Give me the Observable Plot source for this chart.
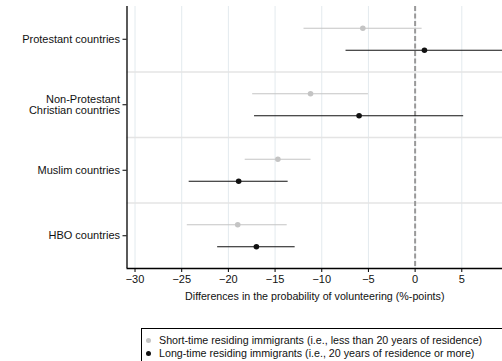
<!DOCTYPE html>
<html>
<head>
<meta charset="utf-8">
<script src="https://cdn.jsdelivr.net/npm/d3@7"></script>
<script src="https://cdn.jsdelivr.net/npm/@observablehq/plot@0.6"></script>
<style>
  body { margin: 0; background: #fff; font-family: "Liberation Sans", Arial, sans-serif; }
  #wrap { position: relative; width: 502px; height: 361px; overflow: hidden; }
  #legend { position: absolute; left: 141px; top: 328px; width: 380px; height: 50px; border: 1px solid #000; box-sizing: border-box; font-size: 10.7px; color: #111; }
  .row { position: absolute; left: 4px; white-space: nowrap; }
  .dot { display: inline-block; width: 5px; height: 5px; border-radius: 50%; margin-right: 8px; vertical-align: 1px; }
</style>
</head>
<body>
<div id="wrap"><div id="chart"></div>
<div id="legend">
  <div class="row" style="top:5px"><span class="dot" style="background:#c4c4c4"></span>Short-time residing immigrants (i.e., less than 20 years of residence)</div>
  <div class="row" style="top:18px"><span class="dot" style="background:#111"></span>Long-time residing immigrants (i.e., 20 years of residence or more)</div>
</div>
</div>
<script>
const categories = ["Protestant countries", "Non-Protestant\nChristian countries", "Muslim countries", "HBO countries"];
const shortEst = [-5.6, -11.2, -14.7, -19.0];
const shortLo  = [-11.9, -17.4, -18.2, -24.4];
const shortHi  = [0.75, -5.0, -11.15, -13.7];
const longEst  = [1.0, -6.0, -18.9, -17.0];
const longLo   = [-7.4, -17.2, -24.2, -21.15];
const longHi   = [9.4, 5.2, -13.6, -12.85];
const xTicks = [-30, -25, -20, -15, -10, -5, 0, 5];
const xDomain = [-30.86, 9.36];

const shortData = categories.map((c, i) => ({i, est: shortEst[i], lo: shortLo[i], hi: shortHi[i]}));
const longData = categories.map((c, i) => ({i, est: longEst[i], lo: longLo[i], hi: longHi[i]}));
const yDomain = [-0.5, categories.length - 0.5];
const separators = d3.range(1, categories.length).map(i => i - 0.5);

const gray = "#c4c4c4", black = "#111";

const chart = Plot.plot({
  width: 502,
  height: 320,
  marginLeft: 126.5,
  marginRight: 0,
  marginTop: 6,
  marginBottom: 52,
  style: {fontFamily: "Liberation Sans, Arial, sans-serif", fontSize: "11px", color: "#111", background: "#fff"},
  x: {domain: xDomain, label: null},
  y: {domain: yDomain, reverse: true, label: null},
  marks: [
    Plot.gridX(xTicks, {stroke: "#e3eaee", strokeOpacity: 1, strokeWidth: 1}),
    Plot.ruleY(separators, {stroke: "#e4e4e4", strokeWidth: 1.5}),
    Plot.ruleX([0], {stroke: "#999", strokeWidth: 2, strokeDasharray: "5,2.5"}),
    Plot.ruleY(shortData, {y: "i", x1: "lo", x2: "hi", dy: -11, stroke: gray, strokeWidth: 1.2, clip: true}),
    Plot.ruleY(longData, {y: "i", x1: "lo", x2: "hi", dy: 11, stroke: black, strokeWidth: 1.2, clip: true}),
    Plot.dot(shortData, {x: "est", y: "i", dy: -11, r: 2.8, fill: gray}),
    Plot.dot(longData, {x: "est", y: "i", dy: 11, r: 2.8, fill: black}),
    Plot.ruleX([xDomain[0]], {stroke: "#000", strokeWidth: 1.3}),
    Plot.ruleY([yDomain[1]], {stroke: "#000", strokeWidth: 1.3}),
    Plot.axisY(d3.range(categories.length), {tickFormat: i => categories[i], tickSize: 4, tickPadding: 3, stroke: "#000", fontSize: 11, lineHeight: 1.0}),
    Plot.axisX(xTicks, {tickSize: 4, tickPadding: 3, stroke: "#000", fontSize: 11, label: null}),
    Plot.text(["Differences in the probability of volunteering (%-points)"], {frameAnchor: "bottom", dy: 31.5, fontSize: 10.7, fill: "#111"})
  ]
});
document.getElementById("chart").appendChild(chart);
</script>
</body>
</html>
